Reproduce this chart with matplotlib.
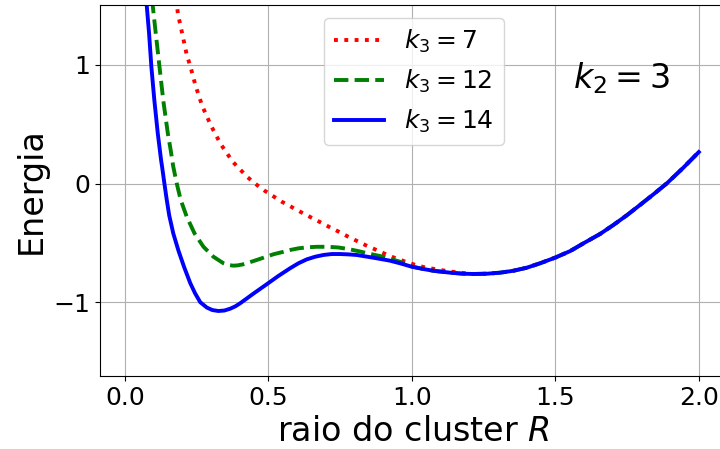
import matplotlib
matplotlib.use("Agg")
import matplotlib.pyplot as plt

# energy curves E(R) for three values of k3 (k2 = 3), sampled along R
r_k7 = [0.178, 0.185, 0.201, 0.216, 0.228, 0.247, 0.270, 0.300, 0.334, 0.376,
        0.427, 0.455, 0.485, 0.516, 0.547, 0.579, 0.613, 0.646, 0.678, 0.711,
        0.743, 0.776, 0.809, 0.843, 0.877, 0.910, 0.944, 0.979, 1.014, 1.050,
        1.087, 1.122, 1.170, 1.215, 1.261, 1.308, 1.354, 1.401, 1.447, 1.499,
        1.552, 1.598, 1.656, 1.702, 1.749, 1.795, 1.842, 1.889, 1.946, 2.000]
e_k7 = [1.60, 1.431, 1.254, 1.083, 0.992, 0.821, 0.653, 0.490, 0.333, 0.184,
        0.055, -0.002, -0.057, -0.105, -0.153, -0.195, -0.240, -0.282, -0.322, -0.364,
        -0.403, -0.445, -0.484, -0.524, -0.560, -0.596, -0.630, -0.659, -0.687, -0.709,
        -0.723, -0.737, -0.752, -0.762, -0.760, -0.751, -0.735, -0.709, -0.672, -0.625,
        -0.569, -0.504, -0.425, -0.350, -0.268, -0.181, -0.091, 0.002, 0.133, 0.265]

r_k12 = [0.090, 0.0976, 0.108, 0.121, 0.134, 0.150, 0.160, 0.169, 0.181, 0.195,
         0.216, 0.243, 0.274, 0.309, 0.344, 0.360, 0.378, 0.392, 0.410, 0.432,
         0.460, 0.518, 0.553, 0.576, 0.605, 0.637, 0.670, 0.709, 0.745, 0.779,
         0.815, 0.849, 0.901, 0.959, 1.000, 1.040, 1.075, 1.133, 1.180, 1.215,
         1.261, 1.308, 1.354, 1.401, 1.447, 1.499, 1.552, 1.598, 1.656, 1.702,
         1.749, 1.795, 1.842, 1.889, 1.946, 2.000]
e_k12 = [1.60, 1.495, 1.265, 0.984, 0.703, 0.423, 0.282, 0.142, 0.002, -0.139,
         -0.280, -0.420, -0.532, -0.617, -0.672, -0.686, -0.692, -0.690, -0.682, -0.666,
         -0.644, -0.596, -0.575, -0.560, -0.546, -0.537, -0.533, -0.533, -0.539, -0.552,
         -0.570, -0.590, -0.617, -0.659, -0.699, -0.720, -0.735, -0.751, -0.760, -0.762,
         -0.760, -0.751, -0.735, -0.709, -0.672, -0.625, -0.569, -0.504, -0.425, -0.350,
         -0.268, -0.181, -0.091, 0.002, 0.133, 0.265]

r_k14 = [0.074, 0.0767, 0.0847, 0.0927, 0.103, 0.115, 0.1265, 0.130, 0.138, 0.146,
         0.155, 0.169, 0.187, 0.207, 0.228, 0.245, 0.263, 0.286, 0.305, 0.326,
         0.347, 0.367, 0.385, 0.402, 0.431, 0.448, 0.495, 0.535, 0.576, 0.605,
         0.634, 0.663, 0.692, 0.721, 0.750, 0.779, 0.808, 0.866, 0.924, 0.962,
         1.000, 1.040, 1.075, 1.133, 1.180, 1.215, 1.261, 1.308, 1.354, 1.401,
         1.447, 1.499, 1.552, 1.598, 1.656, 1.702, 1.749, 1.795, 1.842, 1.889,
         1.946, 2.000]
e_k14 = [1.60, 1.495, 1.265, 0.984, 0.703, 0.423, 0.198, 0.142, 0.002, -0.133,
         -0.270, -0.420, -0.565, -0.705, -0.838, -0.925, -1.000, -1.045, -1.066, -1.074,
         -1.070, -1.055, -1.035, -1.009, -0.958, -0.928, -0.848, -0.779, -0.714, -0.672,
         -0.639, -0.617, -0.602, -0.594, -0.594, -0.597, -0.602, -0.625, -0.650, -0.674,
         -0.701, -0.720, -0.735, -0.751, -0.760, -0.762, -0.760, -0.751, -0.735, -0.709,
         -0.672, -0.625, -0.569, -0.504, -0.425, -0.350, -0.268, -0.181, -0.091, 0.002,
         0.133, 0.265]

x_ticks = [0.0, 0.5, 1.0, 1.5, 2.0]
y_ticks = [-1, 0, 1]

fig = plt.figure(figsize=(7.2, 4.49), dpi=100)
ax = fig.add_axes([0.139, 0.163, 0.8714, 0.8248])

ax.plot(r_k7, e_k7, color="red", ls=":", lw=2.8, label=r"$k_3 = 7$")
ax.plot(r_k12, e_k12, color="green", ls="--", lw=2.8, label=r"$k_3 = 12$")
ax.plot(r_k14, e_k14, color="blue", ls="-", lw=2.8, label=r"$k_3 = 14$")

ax.set_xlim(-0.086, 2.1)
ax.set_ylim(-1.62, 1.5)
ax.set_xticks(x_ticks)
ax.set_yticks(y_ticks)
ax.tick_params(labelsize=18)
ax.grid(True)

ax.set_xlabel(r"raio do cluster $R$", fontsize=24)
ax.set_ylabel("Energia", fontsize=24)
ax.text(1.56, 0.805, r"$k_2 = 3$", fontsize=24, ha="left", va="baseline")
ax.legend(loc="upper center", fontsize=18)

fig.savefig("out.png", dpi=100)
